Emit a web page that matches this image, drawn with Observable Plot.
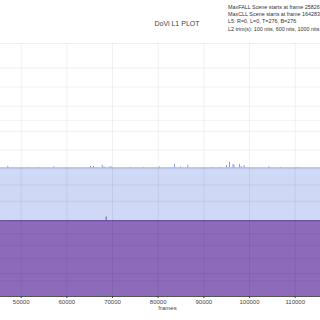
<!DOCTYPE html>
<html><head><meta charset="utf-8">
<script src="https://cdn.jsdelivr.net/npm/d3@7"></script>
<script src="https://cdn.jsdelivr.net/npm/@observablehq/plot@0.6"></script>
<style>
body{margin:0;background:#fff;overflow:hidden;font-family:"Liberation Sans",Arial,sans-serif}
#wrap{position:relative;width:320px;height:320px;overflow:hidden}
#title{position:absolute;left:0;width:354px;top:20px;text-align:center;font-size:7px;color:#444}
#note{position:absolute;left:228px;top:3.5px;font-size:5.4px;line-height:7.4px;color:#333;white-space:nowrap}
</style></head>
<body><div id="wrap"><div id="title">DoVi L1 PLOT</div>
<div id="note">MaxFALL Scene starts at frame 25826<br>MaxCLL Scene starts at frame 164283<br>L5: R=0, L=0, T=276, B=276<br>L2 trim(s): 100 nits, 600 nits, 1000 nits</div></div>
<script>
// data
const frameRange = [45467, 115540];
const maxBaseNits = 100;
const avgBaseNits = 10;
const maxSpikeFrames = [47066, 51314, 53854, 57138, 65175, 65832, 67737, 68131, 69401, 69664, 73934, 76780, 80284, 83569, 84882, 86481, 91824, 93641, 94955, 95612, 96379, 96600, 97802, 98174, 98831, 104218, 106780, 110437];
const maxSpikeNits   = [107, 102, 102, 105, 106, 106, 112, 104, 104, 105, 102, 102, 104, 115, 104, 111, 102, 102, 110, 125, 115, 112, 115, 106, 110, 105, 102, 102];
const avgSpikeFrames = [68610];
const avgSpikeNits = [12];
const xTicks = [50000, 60000, 70000, 80000, 90000, 100000, 110000];
const yTickNits = [0.1, 0.25, 1, 2.5, 5, 10, 25, 50, 100, 200, 400, 600, 1000, 2000, 4000, 10000];

// PQ (ST 2084)
const m1 = 2610/16384, m2 = 2523/4096*128, c1 = 3424/4096, c2 = 2413/4096*32, c3 = 2392/4096*32;
function pq(n){const y=Math.pow(n/10000,m1);return Math.pow((c1+c2*y)/(1+c3*y),m2);}

const base = frameRange.map(f => ({f, max: pq(maxBaseNits), avg: pq(avgBaseNits)}));
const maxSpikes = maxSpikeFrames.map((f,i)=>({f, y1: pq(maxBaseNits), y2: pq(maxSpikeNits[i])}));
const avgSpikes = avgSpikeFrames.map((f,i)=>({f, y1: pq(avgBaseNits), y2: pq(avgSpikeNits[i])}));
const yTickPQ = yTickNits.map(pq);

const chart = Plot.plot({
  width: 320, height: 320,
  marginTop: 43, marginBottom: 24, marginLeft: 0, marginRight: 0,
  style: {fontFamily: '"Liberation Sans", Arial, sans-serif', background: "transparent"},
  x: {domain: frameRange},
  y: {domain: [0, 1]},
  marks: [
    Plot.areaY(base, {x: "f", y: "max", fill: "#cfd8f5"}),
    Plot.lineY(base, {x: "f", y: "max", stroke: "#aab6ea", strokeWidth: 1}),
    Plot.ruleX(maxSpikes, {x: "f", y1: "y1", y2: "y2", stroke: "#8a9de6", strokeWidth: 1}),
    Plot.areaY(base, {x: "f", y: "avg", fill: "#8d6bba"}),
    Plot.ruleX(avgSpikes, {x: "f", y1: "y1", y2: "y2", stroke: "#8d6bba", strokeWidth: 1.3}),
    Plot.lineY(base, {x: "f", y: "avg", stroke: "#6e4aa5", strokeWidth: 1}),
    Plot.gridY(yTickPQ, {stroke: "#000", strokeOpacity: 0.06}),
    Plot.gridX(xTicks, {stroke: "#000", strokeOpacity: 0.06}),
    Plot.axisY(yTickPQ, {anchor: "left", tickSize: 0, fontSize: 6, color: "#444", label: null,
      tickFormat: d => String(yTickNits[yTickPQ.indexOf(d)])}),
    Plot.ruleY([0], {stroke: "#555", strokeWidth: 1}),
    Plot.axisX(xTicks, {tickSize: 2, fontSize: 6, tickPadding: 1.5, color: "#444", label: null, tickFormat: d => String(d)}),
    Plot.text(["frames"], {frameAnchor: "bottom", dy: 13, fontSize: 6, fill: "#444", dx: 7})
  ]
});
document.getElementById("wrap").prepend(chart);
chart.style.position = "absolute"; chart.style.left = "0"; chart.style.top = "0";
</script></body></html>
